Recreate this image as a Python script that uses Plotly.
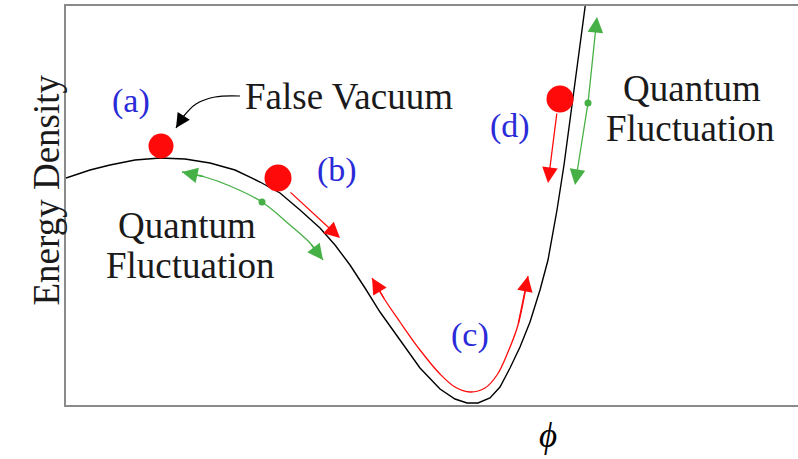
import plotly.graph_objects as go

# Potential curve V(phi) (chart units; y axis reversed so larger = lower on screen)
phi = [66, 90, 110, 135, 160, 185, 210, 235, 260, 280, 300, 320, 335, 350, 365, 380,
       400, 420, 440, 455, 467, 478, 490, 500, 510, 520, 530, 540, 548, 557, 564, 572, 579, 586]
energy = [178, 170, 165, 160, 158, 159, 163, 170, 182, 193, 210, 228, 245, 265, 288, 312,
          340, 368, 389, 399, 403, 403, 398, 387, 368, 347, 322, 290, 260, 210, 165, 105, 55, 0]

# Red rolling path (c)
roll_x = [372, 385, 400, 420, 440, 455, 470, 485, 497, 508, 518, 528]
roll_y = [278, 300, 322, 350, 374, 387, 392, 388, 375, 352, 325, 276]

# Green fluctuation path near the false vacuum
fluct_x = [182, 205, 230, 262, 290, 310, 323]
fluct_y = [172, 177, 186, 202, 225, 243, 260]

# Balls (a), (b), (d)
ball_x = [161, 278, 560]
ball_y = [146, 178, 99]

# Small green dots in the middle of the fluctuation arrows
gdot_x = [262, 588]
gdot_y = [202, 103]

# Arrow from label to false vacuum
fv_x = [240, 215, 196, 183, 176]
fv_y = [96, 97, 104, 117, 128]

RED = "#ff0a0a"
GREEN = "#45b045"
BLUE = "#2a2ad8"
SERIF = "Liberation Serif"

fig = go.Figure()
fig.add_trace(go.Scatter(x=phi, y=energy, mode="lines",
                         line=dict(color="black", width=1.4), hoverinfo="skip"))
fig.add_trace(go.Scatter(x=roll_x, y=roll_y, mode="lines",
                         line=dict(color=RED, width=1.3, shape="spline"), hoverinfo="skip"))
fig.add_trace(go.Scatter(x=fluct_x, y=fluct_y, mode="lines",
                         line=dict(color=GREEN, width=1.3, shape="spline"), hoverinfo="skip"))
fig.add_trace(go.Scatter(x=fv_x, y=fv_y, mode="lines",
                         line=dict(color="black", width=1.2, shape="spline"), hoverinfo="skip"))
fig.add_trace(go.Scatter(x=gdot_x, y=gdot_y, mode="markers",
                         marker=dict(color=GREEN, size=7, opacity=1, line=dict(width=0)),
                         hoverinfo="skip"))
fig.add_trace(go.Scatter(x=ball_x, y=ball_y, mode="markers",
                         marker=dict(color=RED, size=[25, 27, 27], opacity=1,
                                     line=dict(width=0)),
                         hoverinfo="skip"))


def arrow(tip, tail, color, width=1.3):
    fig.add_annotation(x=tip[0], y=tip[1], ax=tail[0], ay=tail[1],
                       xref="x", yref="y", axref="x", ayref="y",
                       text="", showarrow=True, arrowhead=2, arrowsize=2.4,
                       arrowwidth=width, arrowcolor=color, standoff=0, startstandoff=0)


# rolling (c) arrowheads
arrow((roll_x[0], roll_y[0]), (roll_x[1], roll_y[1]), RED)
arrow((roll_x[-1], roll_y[-1]), (roll_x[-2], roll_y[-2]), RED)
# green fluctuation heads
arrow((fluct_x[0], fluct_y[0]), (fluct_x[1], fluct_y[1]), GREEN)
arrow((fluct_x[-1], fluct_y[-1]), (fluct_x[-2], fluct_y[-2]), GREEN)
# false vacuum pointer head
arrow((fv_x[-1], fv_y[-1]), (fv_x[-2], fv_y[-2]), "black", 1.2)
# (b) rolling arrow
arrow((340, 238), (289, 191), RED)
# (d) red arrow down
arrow((548, 183), (557, 112), RED)
# (d) green double arrow
arrow((597, 17), (588, 103), GREEN)
arrow((575, 185), (588, 103), GREEN)

labels = [("(a)", 131, 101), ("(b)", 337, 170), ("(c)", 470, 335), ("(d)", 510, 126)]
for t, x, y in labels:
    fig.add_annotation(x=x, y=y, xref="x", yref="y", text=t, showarrow=False,
                       font=dict(family=SERIF, size=34, color=BLUE))

texts = [("False Vacuum", 349, 96), ("Quantum", 187, 225), ("Fluctuation", 190, 265),
         ("Quantum", 692, 88), ("Fluctuation", 690, 128)]
for t, x, y in texts:
    fig.add_annotation(x=x, y=y, xref="x", yref="y", text=t, showarrow=False,
                       font=dict(family=SERIF, size=37, color="#1a1a1a"))

# axis titles (positions in paper units relative to the plot area)
fig.add_annotation(x=(23 - 66) / 732, y=(405 - 190) / 399, xref="paper", yref="paper",
                   text="Energy Density", showarrow=False, textangle=-90,
                   font=dict(family=SERIF, size=37, color="#1a1a1a"))
fig.add_annotation(x=(559 - 66) / 732, y=(405 - 441) / 399, xref="paper", yref="paper",
                   text="<i>ϕ</i>", showarrow=False, yshift=-16,
                   font=dict(family=SERIF, size=35, color="black"))

fig.update_layout(
    width=798, height=459,
    margin=dict(l=66, r=0, t=6, b=54),
    paper_bgcolor="white", plot_bgcolor="white",
    showlegend=False,
    xaxis=dict(range=[66, 798], showgrid=False, zeroline=False, showticklabels=False,
               ticks="", showline=True, linecolor="#8a8a8a", linewidth=2, mirror=True,
               fixedrange=True),
    yaxis=dict(range=[405, 6], showgrid=False, zeroline=False, showticklabels=False,
               ticks="", showline=True, linecolor="#8a8a8a", linewidth=2, mirror=False,
               fixedrange=True),
)
fig.write_html("out.html", config={"displayModeBar": False},
               post_script="document.body.style.margin='0px';")
